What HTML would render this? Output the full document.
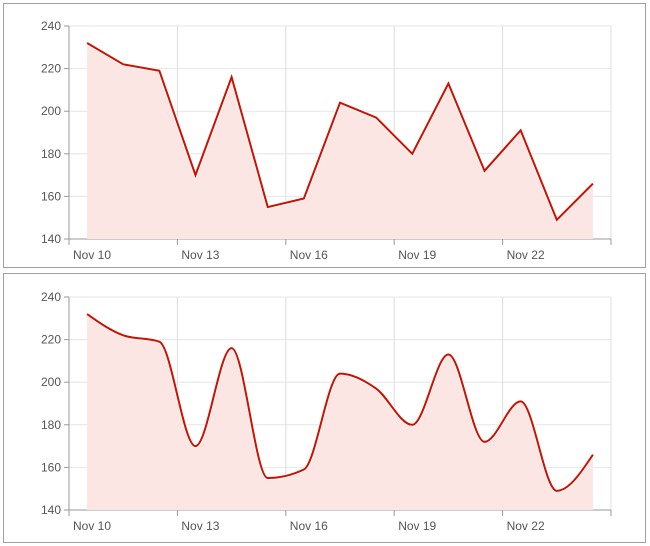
<!DOCTYPE html><html><head><style>body{margin:0;background:#fff;width:650px;height:546px;overflow:hidden}svg{display:block}text{font-family:"Liberation Sans",Verdana,sans-serif;font-size:12px;fill:#555}</style></head><body>
<svg id="s" width="650" height="546" xmlns="http://www.w3.org/2000/svg"></svg>
<script>
const d=[232,222,219,170,216,155,159,204,197,180,213,172,191,149,166];
const s=document.getElementById('s');let h='';
function chart(bx,by,bh,top,smooth){
 h+=`<rect x="${bx}" y="${by}" width="642" height="${bh}" fill="#fff" stroke="#a0a0a0" stroke-width="1"/>`;
 const x0=69,x1=611,y240=top,y140=top+213,cw=(x1-x0)/15;
 const Y=v=>y140-(v-140)*(y140-y240)/100;
 for(let v=140;v<=240;v+=20){const y=Y(v);h+=`<line x1="${x0}" x2="${x1}" y1="${y}" y2="${y}" stroke="#e6e6e6"/><line x1="${x0-5}" x2="${x0}" y1="${y}" y2="${y}" stroke="#999"/><text x="${x0-8}" y="${y+4}" text-anchor="end">${v}</text>`;}
 const lab=['Nov 10','Nov 13','Nov 16','Nov 19','Nov 22'];
 for(let i=0;i<=5;i++){const x=x0+i*3*cw;h+=`<line x1="${x}" x2="${x}" y1="${y240}" y2="${y140}" stroke="${i?'#e0dcdc':'#999'}"/><line x1="${x}" x2="${x}" y1="${y140}" y2="${y140+6}" stroke="#999"/>`;if(i<5)h+=`<text x="${x+4}" y="${y140+20}">${lab[i]}</text>`;}
 h+=`<line x1="${x0}" x2="${x1}" y1="${y140}" y2="${y140}" stroke="#999"/>`;
 const P=d.map((v,i)=>[x0+(i+.5)*cw,Y(v)]);
 let p='M'+P[0].join(',');
 if(!smooth){for(let i=1;i<P.length;i++)p+='L'+P[i].join(',');}
 else{const n=P.length,m=[],dl=[];for(let i=0;i<n-1;i++)dl.push((P[i+1][1]-P[i][1])/(P[i+1][0]-P[i][0]));
  const sg=v=>v<0?-1:v>0?1:0;
  for(let i=0;i<n;i++){if(i==0)m.push(dl[0]);else if(i==n-1)m.push(dl[n-2]);else{const a=dl[i-1],b=dl[i],pp=(a+b)/2;m.push((sg(a)+sg(b))*Math.min(Math.abs(a),Math.abs(b),0.5*Math.abs(pp)));}}
  m[0]=(3*dl[0]-m[1])/2;m[n-1]=(3*dl[n-2]-m[n-2])/2;
  for(let i=0;i<n-1;i++){const dx=(P[i+1][0]-P[i][0])/3;p+=`C${P[i][0]+dx},${P[i][1]+m[i]*dx} ${P[i+1][0]-dx},${P[i+1][1]-m[i+1]*dx} ${P[i+1][0]},${P[i+1][1]}`;}}
 h+=`<path d="${p}L${P[14][0]},${y140}L${P[0][0]},${y140}Z" fill="#fbe6e3"/><path d="${p}" fill="none" stroke="#fff" stroke-width="4" opacity=".8"/><path d="${p}" fill="none" stroke="#cc1100" stroke-width="2"/>`;
}
chart(3.5,3.5,264,26,false);
chart(3.5,273.5,269,297,true);
s.innerHTML=h;
</script></body></html>
